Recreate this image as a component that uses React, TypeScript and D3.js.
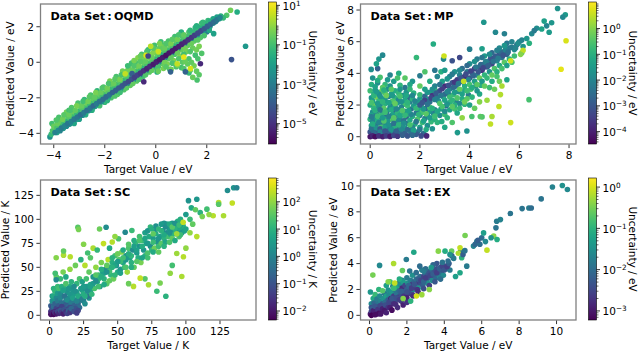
import React from 'react';
import * as d3 from 'd3';

const FONT = '"DejaVu Sans", sans-serif';

// ---------- Data: [target, predicted, log10(uncertainty)] ----------
const oqmdPoints: number[][] = [
  [-4.15,-4.2,-2.4],[-4.1,-4.05,-1.2],[-4.05,-3.85,-0.8],[-4.07,-3.45,-1.0],[-4.0,-3.6,-0.5],
  [-3.75,-3.85,-2.8],[-3.75,-3.5,-1.2],[-3.7,-3.3,-0.6],[-3.8,-3.1,-0.9],
  [-3.5,-3.6,-2.5],[-3.5,-3.3,-1.5],[-3.45,-3.05,-0.7],[-3.5,-2.8,-0.4],[-3.4,-2.7,-1.0],
  [-3.25,-3.35,-2.2],[-3.25,-3.0,-1.1],[-3.2,-2.8,-0.5],[-3.3,-2.55,-0.8],[-3.2,-3.45,-1.8],
  [-3.0,-3.1,-2.6],[-3.0,-2.75,-1.3],[-2.95,-2.5,-0.6],[-3.05,-2.3,-0.9],[-3.0,-3.2,-2.0],
  [-2.75,-2.85,-2.4],[-2.75,-2.5,-1.0],[-2.7,-2.3,-0.4],[-2.8,-2.1,-1.2],[-2.75,-2.95,-1.6],
  [-2.5,-2.6,-2.3],[-2.5,-2.25,-1.1],[-2.45,-2.05,-0.6],[-2.55,-1.85,-0.9],[-2.5,-2.7,-1.5],
  [-2.25,-2.35,-2.5],[-2.25,-2.0,-0.9],[-2.2,-1.8,-0.5],[-2.3,-1.6,-1.3],[-2.2,-2.45,-1.0],
  [-2.0,-2.1,-2.2],[-2.0,-1.75,-1.0],[-1.95,-1.55,-0.4],[-2.0,-2.25,-1.2],[-2.05,-1.4,-0.8],
  [-1.75,-1.85,-2.7],[-1.75,-1.5,-1.2],[-1.7,-1.25,-0.6],[-1.75,-2.0,-0.9],[-1.8,-1.05,-0.3],
  [-1.5,-1.6,-2.5],[-1.5,-1.25,-1.0],[-1.45,-1.0,-0.5],[-1.5,-1.8,-0.7],[-1.55,-0.8,-0.9],
  [-1.25,-1.35,-2.8],[-1.25,-1.0,-1.3],[-1.2,-0.75,-0.6],[-1.25,-1.55,-0.8],[-1.3,-0.5,-0.4],
  [-1.0,-1.05,-3.0],[-1.0,-0.75,-1.5],[-0.95,-0.5,-0.7],[-1.0,-1.3,-0.6],[-1.05,-0.3,-0.5],[-0.95,-0.05,-1.0],
  [-0.75,-0.8,-2.9],[-0.75,-0.5,-1.2],[-0.7,-0.25,-0.4],[-0.75,-1.05,-0.7],[-0.8,0.0,-0.9],[-0.7,0.25,-0.2],
  [-0.5,-0.55,-3.2],[-0.5,-0.3,-1.4],[-0.45,-0.05,-0.6],[-0.5,0.2,-0.3],[-0.55,0.45,-0.9],[-0.5,-0.8,-1.0],
  [-0.25,-0.3,-3.0],[-0.25,-0.05,-1.1],[-0.2,0.2,-0.5],[-0.25,0.45,-0.1],[-0.3,0.7,-1.2],[-0.25,-0.55,-0.7],
  [0.0,-0.05,-3.4],[0.0,0.2,-1.3],[0.05,0.45,-0.6],[0.0,0.7,-0.2],[-0.05,0.95,-1.0],[0.0,-0.3,-0.8],[0.05,-0.55,-1.5],
  [0.25,0.2,-3.1],[0.25,0.45,-1.5],[0.3,0.7,-0.7],[0.25,0.95,-0.4],[0.2,1.15,-1.1],[0.25,-0.05,-0.6],[0.3,-0.35,-0.3],
  [0.5,0.45,-3.3],[0.5,0.7,-1.2],[0.55,0.95,-0.5],[0.5,1.2,-0.9],[0.5,0.2,-0.7],[0.45,-0.1,-0.2],[0.55,-0.4,-1.1],
  [0.75,0.7,-3.0],[0.75,0.95,-1.4],[0.8,1.2,-0.6],[0.75,1.45,-1.0],[0.75,0.45,-0.8],[0.7,0.1,-0.3],[0.8,-0.25,-0.9],
  [1.0,0.95,-3.2],[1.0,1.2,-1.3],[1.05,1.45,-0.8],[1.0,1.7,-1.5],[1.0,0.7,-0.5],[0.95,0.35,-0.2],[1.05,0.0,-0.7],[1.0,-0.3,-1.0],
  [1.25,1.2,-2.9],[1.25,1.45,-1.1],[1.3,1.7,-0.9],[1.25,0.95,-0.6],[1.2,0.6,-0.4],[1.3,0.2,-0.9],[1.25,-0.1,-0.6],
  [1.5,1.45,-2.7],[1.5,1.7,-1.2],[1.55,1.95,-1.4],[1.5,1.2,-0.7],[1.45,0.8,-0.5],[1.55,0.4,-1.0],[1.5,-0.2,-0.4],
  [1.75,1.7,-2.6],[1.75,1.95,-1.5],[1.8,2.2,-1.1],[1.75,1.4,-0.8],[1.7,0.9,-0.3],[1.8,0.5,-0.8],[1.7,-0.7,-0.7],
  [1.62,-1.0,-0.9],[1.45,-0.85,-0.5],[1.3,-0.6,-1.2],
  [2.0,1.95,-2.4],[2.0,2.2,-1.6],[2.05,2.35,-1.3],[2.0,1.7,-3.0],
  [2.25,2.2,-2.3],[2.25,2.45,-1.8],[2.27,1.61,-1.9],[2.4,2.55,-2.0],[2.5,2.45,-2.0],[2.55,2.6,-1.5],[2.35,2.3,-2.8],
  [2.93,2.93,-0.4],[3.19,2.83,-1.6],[3.52,0.9,-2.2],[2.97,0.15,-4.2],[2.78,2.65,-0.8],[2.65,2.5,-1.2],
];

const oqmdFill: number[][] = [
  [-3.875,-3.95,-2.0],[-3.875,-3.7,-0.9],[-3.85,-3.45,-0.5],[-3.9,-3.25,-0.8],
  [-3.625,-3.72,-2.2],[-3.6,-3.45,-1.0],[-3.65,-3.2,-0.4],[-3.6,-2.95,-0.7],
  [-3.375,-3.48,-2.4],[-3.35,-3.2,-0.8],[-3.4,-2.95,-0.5],[-3.35,-2.7,-0.9],
  [-3.125,-3.22,-2.1],[-3.1,-2.95,-1.2],[-3.15,-2.7,-0.6],[-3.1,-2.45,-0.3],
  [-2.875,-2.98,-2.5],[-2.85,-2.7,-0.8],[-2.9,-2.45,-0.5],[-2.85,-2.2,-1.0],
  [-2.625,-2.72,-2.3],[-2.6,-2.45,-1.1],[-2.65,-2.2,-0.4],[-2.6,-1.95,-0.7],
  [-2.375,-2.48,-2.0],[-2.35,-2.2,-0.9],[-2.4,-1.95,-0.6],[-2.35,-1.7,-0.3],
  [-2.125,-2.22,-2.4],[-2.1,-1.95,-1.0],[-2.15,-1.7,-0.5],[-2.1,-1.45,-0.8],
  [-1.875,-1.98,-2.2],[-1.85,-1.7,-0.7],[-1.9,-1.45,-0.4],[-1.85,-1.2,-0.9],[-1.9,-2.15,-1.4],
  [-1.625,-1.72,-2.6],[-1.6,-1.45,-1.1],[-1.65,-1.2,-0.5],[-1.6,-0.95,-0.7],[-1.6,-1.9,-0.8],
  [-1.375,-1.48,-2.3],[-1.35,-1.2,-0.8],[-1.4,-0.95,-0.3],[-1.35,-0.7,-0.9],[-1.4,-1.7,-1.1],
  [-1.125,-1.22,-2.7],[-1.1,-0.95,-1.0],[-1.15,-0.7,-0.6],[-1.1,-0.45,-0.4],[-1.15,-1.45,-0.7],[-1.1,-0.2,-1.1],
  [-0.875,-0.98,-2.5],[-0.85,-0.7,-0.9],[-0.9,-0.45,-0.5],[-0.85,-0.2,-0.8],[-0.9,-1.2,-0.6],[-0.85,0.1,-0.3],
  [-0.625,-0.72,-2.8],[-0.6,-0.45,-1.2],[-0.65,-0.2,-0.4],[-0.6,0.05,-0.7],[-0.65,-0.95,-0.9],[-0.6,0.35,-0.5],
  [-0.375,-0.48,-2.6],[-0.35,-0.2,-1.0],[-0.4,0.05,-0.6],[-0.35,0.3,-0.3],[-0.4,-0.7,-0.8],[-0.35,0.6,-0.9],
  [-0.125,-0.22,-2.9],[-0.1,0.05,-0.8],[-0.15,0.3,-0.5],[-0.1,0.55,-0.2],[-0.15,-0.45,-0.6],[-0.1,0.8,-0.7],
  [0.125,0.02,-2.7],[0.15,0.3,-1.1],[0.1,0.55,-0.4],[0.15,0.8,-0.6],[0.1,-0.25,-0.9],[0.15,1.05,-0.3],[0.1,-0.5,-0.5],
  [0.375,0.28,-3.0],[0.4,0.55,-0.9],[0.35,0.8,-0.5],[0.4,1.05,-0.8],[0.35,0.0,-0.4],[0.4,-0.25,-0.7],
  [0.625,0.52,-2.8],[0.65,0.8,-1.0],[0.6,1.05,-0.3],[0.65,1.3,-0.7],[0.6,0.3,-0.6],[0.65,-0.05,-0.9],[0.6,-0.4,-0.4],
  [0.875,0.78,-2.6],[0.9,1.05,-1.2],[0.85,1.3,-0.4],[0.9,1.55,-0.9],[0.85,0.55,-0.5],[0.9,0.2,-0.8],[0.85,-0.15,-0.3],
  [1.125,1.02,-2.9],[1.15,1.3,-0.8],[1.1,1.55,-0.6],[1.15,0.8,-0.4],[1.1,0.45,-1.0],[1.15,0.05,-0.5],[1.1,-0.35,-0.8],
  [1.375,1.28,-2.5],[1.4,1.55,-1.0],[1.35,1.8,-1.3],[1.4,1.05,-0.5],[1.35,0.6,-0.8],[1.4,0.0,-0.6],[1.35,-0.45,-0.9],
  [1.625,1.52,-2.4],[1.65,1.8,-1.2],[1.6,2.05,-1.5],[1.65,1.25,-0.7],[1.6,0.7,-0.4],[1.65,0.2,-0.9],[1.6,-0.5,-0.6],
  [1.875,1.78,-2.3],[1.9,2.05,-1.4],[1.85,2.25,-1.2],[1.9,1.5,-0.9],
  [2.125,2.02,-2.1],[2.15,2.3,-1.5],[2.1,1.8,-1.7],
  [-0.38,0.39,0.8],[1.36,-0.36,0.7],[0.84,-0.08,0.5],[0.1,0.6,0.6],[1.1,0.3,0.9],[-1.2,-0.65,0.5],[-0.2,0.9,0.4],
  [1.16,-0.54,-3.8],[0.58,-0.54,-3.8],[-0.93,-0.64,-3.9],[-0.47,-1.1,-5.2],[1.75,-0.08,-5.2],[-0.3,0.35,-4.6],
];

const oqmdDiagonal: number[][] = [
  [-3.95,-3.95,-2.9],[-3.82,-3.83,-2.7],[-3.7,-3.7,-3.1],[-3.57,-3.58,-2.8],[-3.45,-3.45,-3.2],[-3.32,-3.33,-2.8],
  [-3.2,-3.2,-3.1],[-3.07,-3.08,-3.2],[-2.95,-2.95,-3.5],[-2.82,-2.83,-3.1],[-2.7,-2.7,-3.4],[-2.57,-2.58,-3.2],
  [-2.45,-2.45,-3.6],[-2.32,-2.33,-3.1],[-2.2,-2.2,-3.3],[-2.07,-2.08,-3.5],[-1.95,-1.95,-3.6],[-1.82,-1.83,-3.4],
  [-1.7,-1.7,-3.8],[-1.57,-1.58,-3.9],[-1.45,-1.45,-4.0],[-1.32,-1.33,-4.1],[-1.2,-1.2,-4.2],[-1.07,-1.08,-4.4],
  [-0.95,-0.95,-4.3],[-0.83,-0.84,-4.7],[-0.72,-0.72,-4.6],[-0.6,-0.61,-4.9],[-0.48,-0.48,-5.0],[-0.35,-0.36,-5.3],
  [-0.23,-0.23,-5.2],[-0.1,-0.11,-5.5],[0.02,0.02,-5.4],[0.15,0.14,-5.6],[0.27,0.27,-5.5],[0.4,0.39,-5.7],
  [0.52,0.52,-5.6],[0.65,0.64,-5.5],[0.77,0.77,-5.5],[0.9,0.89,-5.4],[1.02,1.02,-5.3],[1.15,1.14,-5.2],
  [1.27,1.27,-5.0],[1.4,1.39,-4.9],[1.52,1.52,-4.7],[1.65,1.64,-4.5],[1.77,1.77,-4.4],[1.9,1.89,-4.1],
  [2.02,2.02,-3.9],[2.15,2.14,-3.7],[2.27,2.27,-3.5],[2.4,2.39,-3.2],[2.52,2.52,-2.8],
];

const mpPoints: number[][] = [
  [0.0,0.3,-3.1],[0.15,0.4,-2.2],[0.3,0.35,-2.8],[0.5,0.3,-1.8],[0.7,0.4,-2.5],[0.9,0.3,-1.2],[1.1,0.45,-2.1],[1.3,0.35,-0.8],[1.6,0.4,-1.9],[1.9,0.3,-2.6],
  [0.05,0.7,-1.5],[0.25,0.8,-2.4],[0.45,0.75,-0.6],[0.65,0.85,-1.9],[0.85,0.7,-2.7],[1.05,0.9,-1.4],[1.25,0.8,-0.4],[1.5,0.85,-2.2],[1.8,0.8,-1.0],[2.1,0.9,-0.7],
  [0.0,1.1,-0.9],[0.2,1.2,-1.6],[0.4,1.15,-2.8],[0.6,1.25,-1.2],[0.8,1.1,-0.3],[1.0,1.3,-2.3],[1.2,1.2,-1.5],[1.45,1.25,-2.9],[1.7,1.3,-1.1],[2.0,1.35,-2.0],[2.3,1.4,-1.6],
  [0.1,1.55,-1.8],[0.3,1.6,-0.5],[0.5,1.5,-2.0],[0.7,1.65,-1.3],[0.95,1.6,-2.6],[1.15,1.7,-0.8],[1.4,1.6,-1.7],[1.65,1.75,-2.4],[1.95,1.7,-1.2],[2.25,1.8,-2.8],
  [0.0,2.0,-1.2],[0.2,2.05,-0.2],[0.4,2.0,-1.9],[0.6,2.1,-1.0],[0.85,2.0,-2.2],[1.1,2.15,-1.5],[1.35,2.05,-0.6],[1.6,2.2,-2.1],[1.9,2.15,-1.4],
  [0.05,2.45,-1.6],[0.25,2.5,-0.1],[0.5,2.4,-1.3],[0.75,2.55,-2.0],[1.0,2.45,-0.9],[1.3,2.6,-1.7],[1.55,2.5,-2.6],
  [0.0,2.9,-0.7],[0.2,2.95,-1.4],[0.45,2.85,-0.3],[0.7,3.0,-1.8],[1.0,2.9,-1.1],[1.4,3.1,-2.3],
  [0.05,3.3,-1.0],[0.3,3.4,-1.9],[0.6,3.3,-0.8],[0.95,3.5,-1.5],[0.1,3.7,-1.7],[0.4,3.75,-0.6],[0.8,3.9,-2.0],
  [0.04,4.25,-1.8],[0.3,4.3,-2.8],[0.35,4.9,-1.6],[0.5,5.15,-1.9],[0.25,4.6,-1.3],[1.15,4.0,-1.1],[1.4,3.7,-0.4],
  [1.7,3.5,-1.6],[1.86,5.0,-0.8],[2.0,3.85,-2.2],[2.54,5.85,-1.1],[2.2,4.1,-0.5],[2.6,4.2,-2.3],[2.85,4.1,-1.0],
  [3.3,4.8,-3.1],[2.95,4.9,-1.9],[2.97,5.1,0.6],[2.0,3.2,-0.3],
  [0.1,0.15,-3.5],[0.3,0.2,-3.0],[0.55,0.15,-3.3],[0.75,0.2,-2.9],[1.0,0.2,-3.0],[1.2,0.2,-2.5],[1.4,0.25,-2.8],[1.65,0.2,-2.4],[1.85,0.15,-2.9],[2.15,0.2,-2.6],
  [0.05,0.5,-2.4],[0.25,0.55,-1.7],[0.4,0.5,-2.9],[0.6,0.6,-1.4],[0.8,0.55,-2.2],[1.0,0.6,-1.0],[1.2,0.6,-2.5],[1.4,0.55,-1.6],[1.7,0.6,-2.0],[2.0,0.6,-1.3],[2.3,0.7,-1.8],
  [0.1,0.95,-2.0],[0.3,1.0,-1.1],[0.5,0.95,-2.3],[0.7,1.0,-1.6],[0.95,1.05,-0.7],[1.15,1.05,-1.9],[1.35,1.0,-2.4],[1.6,1.05,-1.2],[1.9,1.1,-0.5],[2.2,1.15,-2.1],
  [0.05,1.35,-1.3],[0.25,1.4,-2.2],[0.45,1.35,-0.8],[0.65,1.45,-2.5],[0.9,1.4,-1.4],[1.1,1.5,-0.9],[1.3,1.4,-1.9],[1.55,1.45,-1.0],[1.85,1.5,-2.2],[2.1,1.55,-0.6],[2.4,1.6,-1.4],
  [0.15,1.8,-0.9],[0.35,1.85,-1.6],[0.55,1.8,-0.4],[0.8,1.85,-1.8],[1.0,1.9,-1.2],[1.25,1.85,-2.0],[1.5,1.95,-0.7],[1.75,1.95,-1.5],[2.05,1.95,-1.0],
  [0.1,2.25,-1.4],[0.35,2.25,-0.8],[0.6,2.3,-1.6],[0.9,2.25,-0.5],[1.15,2.35,-1.9],[1.4,2.3,-1.2],[1.7,2.4,-0.9],[2.0,2.4,-1.7],
  [0.15,2.7,-1.1],[0.35,2.7,-1.8],[0.6,2.75,-0.6],[0.85,2.7,-1.4],[1.15,2.75,-0.8],[1.45,2.8,-1.6],[1.75,2.75,-1.0],
  [0.2,3.15,-1.3],[0.5,3.1,-0.4],[0.8,3.2,-1.7],[1.2,3.25,-0.9],[1.6,3.3,-1.2],[0.3,3.55,-1.1],[0.7,3.6,-1.5],[1.1,3.7,-0.6],
  [0.15,0.25,-2.6],[0.4,0.3,-2.0],[0.6,0.35,-3.0],[0.85,0.45,-1.6],[1.05,0.35,-2.8],[1.25,0.5,-1.9],[1.5,0.45,-2.6],[1.75,0.4,-1.4],
  [2.0,0.45,-2.3],[2.25,0.45,-1.1],[2.5,0.5,-1.7],
  [0.1,0.8,-1.1],[0.35,0.9,-2.0],[0.55,1.0,-0.5],[0.75,0.75,-1.7],[0.95,0.85,-2.4],[1.15,0.75,-0.9],[1.35,0.85,-1.8],[1.6,0.75,-0.6],
  [1.85,0.95,-2.3],[2.15,1.0,-1.3],[2.45,0.95,-0.8],
  [0.05,1.25,-2.2],[0.3,1.3,-0.7],[0.5,1.2,-1.5],[0.75,1.3,-2.1],[0.95,1.2,-0.4],[1.2,1.35,-1.2],[1.4,1.35,-0.8],[1.65,1.4,-2.0],
  [1.95,1.4,-0.9],[2.25,1.45,-0.4],[2.55,1.45,-1.9],
  [0.2,1.65,-1.0],[0.4,1.7,-2.3],[0.6,1.55,-0.7],[0.85,1.7,-1.1],[1.05,1.75,-2.0],[1.3,1.65,-0.5],[1.55,1.65,-1.4],[1.85,1.8,-0.8],
  [2.15,1.75,-1.6],[2.4,1.85,-0.6],
  [0.05,2.15,-0.6],[0.3,2.1,-1.5],[0.5,2.2,-0.9],[0.75,2.15,-1.3],[1.0,2.1,-0.3],[1.25,2.2,-1.7],[1.5,2.15,-0.9],[1.8,2.25,-2.0],
  [2.1,2.25,-1.2],[2.35,2.35,-2.4],
  [0.15,2.6,-0.9],[0.4,2.55,-1.7],[0.65,2.6,-0.2],[0.9,2.6,-1.5],[1.2,2.55,-0.6],[1.45,2.6,-1.2],[1.7,2.6,-1.9],[2.0,2.65,-0.8],
  [0.25,2.85,-1.5],[0.55,2.95,-1.0],[0.85,3.0,-0.4],[1.2,3.0,-1.6],[1.6,3.0,-0.8],
  [2.6,1.1,-1.0],[2.8,1.35,-1.8],[3.0,1.4,-0.7],[3.2,1.7,-1.3],[3.4,1.75,-0.6],[3.6,2.1,-1.9],[3.8,2.05,-0.9],[2.6,1.7,-2.2],
  [2.85,1.75,-1.4],[3.05,1.95,-2.5],[3.2,2.15,-1.0],[3.45,2.25,-2.0],[3.7,2.4,-1.1],[3.95,2.65,-2.2],[2.75,2.25,-1.7],[2.95,2.5,-1.0],
  [3.15,2.7,-2.3],[3.35,2.65,-0.8],[3.55,2.85,-1.8],[3.8,2.95,-1.2],[4.05,3.0,-0.5],[4.25,3.2,-1.8],[4.45,3.25,-1.1],[2.2,2.55,-2.6],
  [2.45,2.8,-1.3],[2.6,2.95,-0.9],[2.3,2.35,-1.5],
  [2.0,2.0,-2.9],[2.2,2.3,-3.4],[2.4,2.2,-2.5],[2.5,2.6,-3.6],[2.7,2.5,-2.2],[2.8,2.9,-3.2],[3.0,2.7,-2.6],[3.0,3.2,-3.8],
  [3.2,3.0,-2.0],[3.3,3.4,-3.0],[3.45,3.2,-2.4],[3.5,3.6,-3.5],[3.6,3.9,-2.1],[3.7,3.5,-2.8],[3.8,3.8,-3.7],[3.9,4.1,-2.3],
  [4.0,3.7,-3.1],[4.1,4.0,-2.6],[4.2,4.3,-3.4],[4.3,3.9,-2.0],[4.4,4.4,-2.9],[4.5,4.2,-3.6],[4.6,4.6,-2.4],[4.7,4.4,-3.0],
  [4.8,4.8,-2.2],[4.9,4.6,-3.3],[5.0,5.0,-2.7],[5.1,4.8,-2.0],[5.2,5.2,-3.1],[5.3,5.0,-2.5],[5.4,5.4,-1.9],[5.5,5.2,-2.8],
  [5.6,5.6,-2.3],[5.8,5.5,-1.8],[5.9,5.8,-2.5],[6.0,6.0,-2.1],[6.15,5.7,-1.6],
  [2.1,2.15,-3.0],[2.3,2.05,-2.4],[2.45,2.45,-3.3],[2.6,2.35,-2.1],[2.65,2.75,-2.9],[2.85,2.6,-2.3],[2.9,3.05,-3.5],[3.1,2.85,-2.0],
  [3.15,3.25,-3.1],[3.35,3.1,-2.6],[3.4,3.45,-3.6],[3.55,3.35,-2.2],[3.65,3.7,-3.0],[3.75,3.45,-2.5],[3.85,3.95,-3.2],[3.95,3.6,-2.0],
  [4.05,4.15,-3.4],[4.15,3.85,-2.7],[4.25,4.4,-2.3],[4.35,4.1,-3.0],[4.45,4.55,-2.6],[4.55,4.35,-3.3],[4.65,4.75,-2.1],[4.75,4.5,-2.8],
  [4.85,4.95,-3.0],[4.95,4.75,-2.4],[5.05,5.1,-2.9],[5.15,4.95,-2.2],[5.25,5.35,-2.6],[5.35,5.15,-3.0],[5.45,5.5,-2.0],[5.55,5.35,-2.5],
  [5.7,5.65,-2.2],[5.85,5.6,-2.0],[5.95,5.9,-1.8],[6.1,6.1,-2.0],
  [2.3,2.8,-1.6],[2.6,3.2,-2.0],[2.9,3.5,-1.4],[3.2,3.8,-2.1],[3.4,4.1,-1.7],[3.7,4.3,-2.5],[4.0,4.6,-1.8],[4.3,4.9,-2.2],
  [4.6,5.1,-1.5],[4.9,5.3,-2.6],[5.2,5.6,-1.9],[5.5,5.9,-2.3],[4.5,5.55,-1.4],[4.0,5.53,-2.1],[3.6,5.0,-3.3],
  [2.5,3.0,-1.8],[2.8,3.3,-2.4],[3.1,3.65,-1.6],[3.3,3.95,-2.2],[3.6,4.2,-1.9],[3.9,4.5,-2.6],[4.2,4.75,-1.7],[4.5,5.0,-2.3],
  [4.8,5.2,-1.8],[5.1,5.45,-2.1],[5.4,5.75,-1.6],[5.7,6.0,-2.0],[2.2,3.0,-1.4],[2.4,3.5,-1.1],[2.7,3.8,-2.0],[3.0,4.2,-1.5],
  [2.5,1.8,-1.0],[2.8,2.1,-0.5],[3.0,2.3,-1.3],[3.2,2.5,-0.7],[3.4,2.8,-1.5],[3.6,3.0,-0.3],[3.8,3.2,-1.0],[4.0,3.3,-0.6],
  [4.2,3.5,-1.4],[4.4,3.7,-0.2],[4.6,3.9,-0.9],[4.8,4.1,-1.6],[5.0,4.3,-0.5],[5.2,4.5,-1.2],[5.4,4.7,-0.4],[5.6,4.9,-1.0],
  [5.8,5.1,-0.7],[6.1,5.3,-0.3],
  [2.7,1.6,-1.2],[2.9,1.9,-0.6],[3.1,2.05,-1.6],[3.3,2.3,-0.9],[3.5,2.45,-0.5],[3.7,2.7,-1.3],[3.9,2.9,-0.7],[4.1,3.1,-1.1],
  [4.3,3.3,-0.4],[4.5,3.5,-1.5],[4.7,3.7,-0.8],[4.9,3.9,-0.3],[5.1,4.1,-1.0],[5.3,4.3,-0.6],[5.5,4.5,-1.4],[5.7,4.7,-0.5],
  [3.4,2.0,-1.0],[3.9,2.4,-0.4],[4.4,2.7,-1.2],[4.8,3.1,-0.7],[5.2,3.5,-0.2],[3.6,1.8,-0.8],[4.0,2.0,-1.4],[4.4,2.2,0.0],
  [2.4,1.2,-1.5],[2.7,0.9,-0.9],[3.0,0.6,-1.2],
  [2.6,1.3,-0.7],[3.0,1.6,-1.8],[3.3,1.9,-0.4],[3.5,1.5,-1.2],[3.8,2.2,-0.2],[4.1,2.5,-0.9],[4.3,2.9,-1.6],[4.6,3.2,-0.3],
  [4.9,3.5,-1.1],[5.1,3.8,-0.6],[3.1,1.2,-0.9],[3.7,1.2,0.1],[4.2,1.8,-0.3],[4.5,1.25,-0.5],[4.7,2.3,0.2],[5.0,3.0,-0.2],
  [5.3,3.2,0.3],[5.5,3.6,-1.3],[2.88,0.96,-1.1],[3.3,0.9,-0.5],[4.09,1.28,-0.6],[4.43,1.28,-0.4],[3.76,3.5,0.5],
  [7.54,8.1,-1.7],[7.85,7.7,-1.5],[7.75,7.55,-1.9],[7.3,7.2,-1.6],[7.1,7.0,-2.0],[6.9,6.8,-1.3],[6.7,6.85,-1.8],[7.2,6.6,-1.5],
  [6.5,6.5,-1.9],[6.3,6.2,-1.6],[6.6,6.7,-2.2],[7.0,7.3,-1.4],[6.4,5.9,-1.0],[7.88,6.06,0.7],[7.68,4.26,0.8],[6.39,2.34,-0.6],
  [5.24,2.66,0.4],[5.18,1.91,0.5],[5.65,0.89,0.6],[4.84,0.8,0.5],[4.9,1.28,0.3],[3.89,0.36,-1.7],[3.51,0.26,-1.5],
  [4.57,7.23,-1.6],[5.04,6.6,-1.9],[5.4,6.5,-2.1],[6.15,5.45,0.5],[6.05,5.2,0.0],[5.65,4.8,0.6],
  [0.0,0.0,-4.2],[0.1,0.05,-3.9],[0.2,0.0,-4.3],[0.35,0.05,-3.7],[0.5,0.0,-4.0],[0.65,0.05,-3.5],[0.8,0.02,-4.1],[0.95,0.08,-3.3],
  [1.1,0.03,-3.6],[1.3,0.1,-2.8],[1.5,0.05,-3.0],[1.7,0.1,-2.6],[2.05,0.05,-3.2],[2.27,0.05,-3.9],
];

const scPoints: number[][] = [
  [1,10,-0.8],[2,20,0.5],[3,28,1.0],[4,18,0.2],[6,30,1.2],[8,26,0.7],[9,20,0.0],[11,28,0.9],[13,24,0.3],[15,30,0.8],
  [17,26,0.4],[20,33,1.1],[22,38,1.4],[24,35,0.6],
  [2,15,0.3],[3,20,0.8],[4,25,1.1],[5,18,0.1],[6,23,0.5],[7,28,1.3],[8,22,0.2],[9,30,0.9],[10,26,0.6],[12,33,1.4],
  [14,28,0.4],[16,35,1.0],[18,30,0.2],[5,40,1.6],[8,38,1.2],[10,45,1.8],[12,40,0.8],[4.9,59.9,1.9],[10.3,62.7,2.2],
  [15.2,61,2.3],[10.3,67,1.6],[4.2,43.8,1.3],[4.9,37,0.2],
  [1,4,-1.6],[2,8,-1.2],[3,5,-1.8],[4,7,-0.9],[5,10,-0.6],[6,8,-1.4],[7,13,-0.3],[8,10,-1.0],[9,7,-1.6],[10,12,-0.5],
  [11,9,-1.2],[12,15,-0.2],[13,12,-0.9],[14,18,0.1],[15,14,-0.4],[16,20,0.3],[17,12,-0.8],[18,22,0.5],[19,16,-0.2],
  [20,24,0.6],[21,12,-0.6],[22,20,0.2],[23,16,-0.3],[24,26,0.7],[25,15,-0.1],[26,28,0.4],[28,30,0.9],[29,18,0.3],
  [2,6,-1.0],[3,9,-0.5],[4,12,-0.7],[5,7,-1.3],[6,15,-0.2],[7,10,-0.9],[8,18,0.1],[9,13,-0.4],[10,8,-1.1],[11,20,-0.3],
  [12,11,-0.8],[13,16,0.2],[14,9,-0.6],[15,22,0.4],[16,13,-0.2],[17,18,0.6],[18,10,-0.7],[19,25,0.3],[20,15,0.0],[21,20,0.8],
  [22,8,-0.5],[23,28,0.5],[24,17,-0.1],[25,22,0.9],[26,12,0.2],[27,30,0.4],[28,20,-0.3],[30,25,0.7],
  [25,30,0.5],[26,20,0.9],[27,38,1.3],[28,25,0.2],[29,45,1.6],[30,32,0.8],[31,22,1.1],[32,40,0.4],[33,28,1.4],[34,50,2.0],
  [35,35,0.6],[36,42,1.2],[37,30,0.3],[38,55,1.8],[39,45,0.7],[40,38,1.0],[41,48,0.1],[42,33,1.5],[43,58,2.3],[44,50,0.5],
  [45,42,1.1],[46,55,0.9],[47,38,1.7],[48,62,1.3],[49,52,0.2],[50,45,0.8],[51,58,1.5],[52,48,0.4],[53,66,1.9],[54,55,0.7],
  [55,50,1.2],[56,62,0.3],[57,45,2.1],[58,70,1.4],[59,60,0.6],[60,55,1.0],[61,68,0.2],[62,50,1.6],[63,75,1.1],[64,65,0.5],
  [65,60,0.9],[66,72,0.3],[67,55,1.8],[68,78,1.2],[69,68,0.4],[70,62,1.0],[71,75,0.6],[72,65,1.4],[73,82,0.8],[74,72,0.2],
  [75,68,1.1],[76,80,0.5],[77,70,1.7],[78,85,0.9],[79,76,0.3],[80,72,1.2],[81,82,0.6],[82,75,1.5],[83,88,0.4],[84,80,1.0],
  [85,76,0.7],[86,86,0.2],[87,82,1.3],[88,90,0.5],[89,84,0.9],[90,80,1.6],[91,88,0.3],[92,85,1.1],[93,92,0.6],[94,87,0.2],
  [95,82,1.4],[96,90,0.8],[97,86,0.4],[98,93,1.0],[99,88,0.6],
  [32,33,0.5],[36,38,1.1],[40,44,0.6],[44,46,1.3],[48,52,0.7],[52,56,1.2],[56,58,0.4],[60,62,1.1],[64,68,0.6],[68,72,0.9],
  [72,75,0.5],[76,76,1.2],[80,80,0.4],[84,84,0.8],[88,86,0.3],[92,90,1.0],[96,94,0.6],[34,42,1.5],[38,48,0.9],[42,52,1.6],
  [46,60,1.0],[50,64,1.7],[54,68,0.8],[58,74,1.5],[62,78,0.9],[66,82,1.3],[70,86,0.6],[74,92,1.1],[36,30,1.3],[40,32,0.8],
  [44,36,1.6],[48,42,1.1],[52,44,0.6],[56,50,1.4],[60,50,0.9],[64,56,1.5],[68,60,0.7],[72,60,1.3],[76,66,0.8],[80,66,1.6],
  [84,72,1.0],[88,76,1.4],[92,78,0.8],[96,84,1.2],[100,90,0.7],[86,95,0.6],[90,96,0.4],[94,98,0.9],[78,90,0.2],[82,88,1.0],
  [84,96,0.3],
  [72,88,0.4],[75,90,0.9],[78,93,0.3],[80,90,1.1],[82,95,0.5],[85,92,0.2],[88,95,0.8],[90,92,1.5],[92,96,0.3],[95,94,1.2],
  [76,85,1.6],[93.3,85,2.1],[70,80,0.7],[66,78,1.4],[62,72,0.6],[58,64,0.9],[54,60,1.3],[50,56,0.5],[46,50,1.0],[42,45,0.3],
  [38,40,0.9],[34,36,0.2],[30,30,0.6],
  [20.8,91.8,1.5],[21.3,89.5,1.8],[41.5,91.8,0.2],[36.7,90,1.7],[55.5,86.6,0.1],[60.4,88.4,1.2],[50.6,79.8,1.4],[46,76.4,2.3],
  [39.6,74.7,2.4],[25,74,1.9],[28,65,1.3],[32,70,2.2],[23,58,1.0],[19,52,1.7],[26,52,2.3],[30,60,1.5],[15,48,2.0],[35,68,1.1],
  [44,70,0.8],[48,82,2.0],
  [61.6,30.1,2.3],[72.6,31.8,2.2],[78.7,25,1.2],[85.3,19.9,1.0],[81.1,33.6,1.8],[97,40.4,2.2],[98.2,61,2.3],[93.3,64.4,2.1],
  [88.5,43.8,2.0],[70,38,1.5],[66.5,38.7,2.4],[58,33,1.7],[90,52,1.3],[100,70,2.0],
  [130.5,130,0.2],[135,132.9,0.3],[137.3,132.9,0.0],[124,117.5,2.3],[134,117,2.4],[124,115.8,1.5],[115.4,110.6,1.3],
  [110.5,107,1.0],[120,103.8,2.3],[127.6,103.8,2.2],[108,120.9,0.4],[101.9,119.5,0.3],[104,112,0.8],[107,110,1.6],
  [100,105,0.5],[103,100,1.2],[112,103,1.8],[96,100,0.9],[98,97,2.4],[105,95,1.6],[117,105,2.0],[108,82,2.3],[103,86,2.0],
  [3,3,-2.0],[5,4,-1.9],[7,6,-1.5],[9,9,-1.3],[11,3,-1.8],[13,6,-1.4],[15,8,-1.1],[17,5,-1.5],[19,7,-1.0],[21,5,-1.2],
  [1,1,-2.1],[2,2.5,-1.8],[3,1,-2.2],[4,3,-1.5],[5,1.5,-2.0],[6,4,-1.2],[7,2,-1.7],[8,5,-0.9],[9,3,-1.4],[10,1.5,-1.9],
  [11,6,-1.0],[12,3.5,-1.6],[13,2,-1.3],[14,5,-0.8],[15,3,-1.5],[16,7,-0.6],[18,4,-1.1],[20,2.5,-1.4],
];

const exPoints: number[][] = [
  [0.1,0.9,-1.6],[0.2,1.3,-1.2],[0.3,1.6,-0.9],[0.05,1.8,-1.4],
  [0.1,0.6,-2.4],[0.25,0.95,-2.1],[0.4,1.25,-1.8],[0.55,1.5,-1.6],[0.8,1.7,-1.9],[1.0,1.95,-1.5],[1.25,2.25,-1.7],
  [1.5,2.45,-2.0],[1.75,2.7,-1.6],[2.0,2.9,-1.8],[2.3,3.1,-1.5],[2.5,3.3,-2.0],[2.8,3.5,-1.7],
  [0.05,0.1,-3.0],[0.1,0.3,-2.6],[0.2,0.1,-3.1],[0.15,0.5,-2.2],[0.3,0.25,-2.8],[0.35,0.6,-2.0],[0.4,0.1,-2.9],[0.45,0.9,-1.9],
  [0.5,0.4,-2.5],[0.55,0.7,-2.7],[0.6,1.1,-1.7],[0.65,0.3,-3.0],[0.7,0.9,-2.3],[0.75,1.3,-1.5],[0.8,0.55,-2.6],[0.85,1.0,-2.0],
  [0.9,1.5,-1.3],[0.95,0.7,-2.8],[1.0,1.2,-2.2],[1.05,1.6,-1.6],[1.1,0.9,-2.4],[1.15,1.3,-2.9],[1.2,1.8,-1.4],[1.25,1.0,-2.1],
  [1.3,1.5,-2.6],[1.35,2.0,-1.8],[1.4,1.2,-2.3],[1.45,1.7,-1.9],[1.5,2.2,-1.2],[1.55,1.4,-2.7],[1.6,1.9,-2.1],[1.65,2.4,-1.6],
  [1.7,1.6,-2.4],[1.75,2.1,-2.8],[1.8,2.6,-1.3],[1.85,1.8,-2.0],[1.9,2.3,-2.5],[1.95,1.5,-1.7],[2.0,2.0,-2.2],[2.05,2.5,-1.5],
  [2.1,1.7,-2.6],[2.15,2.2,-2.0],[2.2,2.7,-1.8],[2.25,1.9,-2.4],[2.3,2.4,-2.7],[2.35,2.0,-1.6],[2.4,2.6,-2.1],[2.45,2.2,-2.5],
  [2.5,2.8,-1.9],[2.55,2.4,-2.3],[2.6,2.1,-1.4],[2.65,2.6,-2.6],[2.7,3.0,-2.0],[2.75,2.5,-2.4],[2.8,2.8,-1.7],[2.85,2.3,-2.2],
  [2.9,3.0,-2.5],[2.95,2.6,-1.8],[3.0,3.2,-2.1],[3.05,2.8,-2.4],[3.1,2.5,-1.5],[3.15,3.0,-2.7],[3.2,3.4,-1.9],[3.25,2.9,-2.3],
  [3.3,3.2,-2.0],[3.35,2.7,-1.6],[3.4,3.5,-2.2],[3.45,3.1,-2.6],[3.5,3.3,-1.8],[3.55,2.9,-2.1],[3.6,3.6,-2.4],[3.65,3.2,-1.9],
  [3.7,3.4,-2.5],[3.75,3.0,-1.7],[3.8,3.7,-2.2],[3.85,3.3,-2.0],[3.9,3.5,-2.3],[3.95,3.1,-1.6],[4.0,3.8,-2.1],[4.1,3.6,-1.9],
  [4.2,3.9,-2.4],[4.3,3.5,-1.8],
  [0.2,0.35,-2.9],[0.3,0.7,-2.3],[0.45,0.45,-2.7],[0.6,0.75,-2.5],[0.7,0.5,-2.9],[0.85,0.8,-2.4],[1.0,0.6,-2.7],[1.05,1.0,-2.5],
  [1.2,1.3,-2.3],[1.3,0.9,-2.8],[1.45,1.35,-2.4],[1.6,1.2,-2.6],[1.7,1.85,-2.2],[1.85,1.5,-2.7],[2.0,1.8,-2.4],[2.1,2.3,-2.1],
  [2.25,2.1,-2.6],[2.4,2.4,-2.3],[2.55,2.0,-2.7],[2.6,2.8,-2.2],[2.75,2.7,-2.5],[2.9,2.6,-2.1],[3.0,2.9,-2.6],[3.1,3.3,-2.3],
  [3.25,3.1,-2.5],[3.4,3.2,-2.2],[3.5,3.5,-2.4],[3.6,3.3,-2.6],[3.75,3.6,-2.2],[3.9,3.8,-2.5],[4.0,3.5,-2.3],[4.15,3.75,-2.6],
  [4.25,4.0,-2.2],
  [0.5,0.15,-3.1],[0.8,0.35,-3.0],[1.1,0.6,-2.9],[1.4,0.85,-2.8],[1.7,1.1,-2.6],[2.0,1.35,-2.9],[2.3,1.6,-2.5],[2.6,1.8,-2.8],
  [2.9,2.05,-2.4],[3.2,2.3,-2.6],[3.5,2.6,-2.3],[3.8,2.8,-2.0],
  [0.1,0.0,-3.2],[0.3,0.05,-3.1],[0.6,0.1,-3.0],[0.9,0.2,-2.9],[1.2,0.4,-3.1],[1.5,0.6,-2.8],[1.8,0.8,-2.9],[2.0,1.0,-2.7],[2.33,1.49,-2.8],
  [0.18,3.11,-0.5],[0.54,3.86,-1.6],[1.29,4.01,-0.2],[1.97,4.32,-1.8],[2.37,4.88,-1.2],[1.76,3.47,-0.6],[2.15,3.42,-1.9],
  [2.69,3.8,-2.0],[2.51,1.49,0.0],[0.5,2.0,-1.0],[0.9,2.3,-1.3],[1.1,2.6,-0.8],[1.3,2.1,-0.9],[1.6,2.8,-1.1],[0.7,1.9,-0.7],
  [1.8,1.3,-0.4],[2.2,1.1,-1.0],[2.8,1.6,-0.3],[3.2,2.0,-0.4],[1.35,2.5,-0.1],[1.0,2.6,-0.4],
  [4.39,4.96,-0.6],[4.04,4.96,-1.1],[3.68,4.96,-0.4],[4.93,4.45,-1.0],[5.2,3.8,-1.8],[4.84,3.29,-1.2],[4.88,4.96,-1.9],
  [4.84,5.22,-0.1],[4.75,4.8,-0.2],[5.11,6.17,-0.5],[5.74,5.73,-1.8],[6.0,5.99,-2.0],[5.56,5.35,-1.7],[5.65,5.5,-2.1],
  [6.28,5.04,-0.1],[6.64,6.12,-0.4],[6.82,5.86,-1.1],[6.1,6.37,-1.3],[6.76,6.76,-1.9],[6.8,7.27,-1.8],[7.0,7.4,-1.7],
  [7.53,7.87,-1.9],[8.16,8.25,-1.9],[8.52,8.3,-1.8],[8.65,8.3,-2.0],[9.18,9.0,-1.9],[9.78,9.92,-1.7],[10.31,10.03,-1.5],
  [10.58,9.72,-1.6],[4.4,4.6,-2.2],[4.5,4.4,-1.8],[4.2,4.2,-2.0],[3.9,4.1,-1.9],[3.6,4.0,-2.3],[3.4,3.9,-2.1],[5.0,4.7,-2.2],
  [5.1,5.0,-1.9],[4.6,3.0,-1.3],[4.3,4.7,-1.5],[3.0,3.6,-2.0],[3.3,3.7,-1.4],[2.9,3.4,-1.8],[5.9,5.5,-2.0],[5.8,5.8,-2.2],
  [6.2,5.7,-1.6],[6.5,6.0,-1.5],
];

// ---------- Axis ticks ----------
const oqmdTicks = [-4, -2, 0, 2];
const mpTicks = [0, 2, 4, 6, 8];
const scTicks = [0, 25, 50, 75, 100, 125];
const exTicks = [0, 2, 4, 6, 8, 10];
const oqmdCbarExps = [1, -1, -3, -5];
const mpCbarExps = [0, -1, -2, -3, -4];
const scCbarExps = [2, 1, 0, -1, -2];
const exCbarExps = [0, -1, -2, -3];

const panels = [
  {
    id: 'oqmd', name: 'OQMD', unit: 'eV', points: [...oqmdPoints, ...oqmdFill, ...oqmdDiagonal],
    xDom: [-4.52, 3.93], yDom: [-4.6, 3.28], xTicks: oqmdTicks, yTicks: oqmdTicks,
    cDom: [-6.03, 1.17], cExps: oqmdCbarExps,
    ox: 0, oy: 0, ylabX: 10,
  },
  {
    id: 'mp', name: 'MP', unit: 'eV', points: mpPoints,
    xDom: [-0.39, 8.28], yDom: [-0.46, 8.38], xTicks: mpTicks, yTicks: mpTicks,
    cDom: [-4.48, 1.03], cExps: mpCbarExps,
    ox: 320, oy: 0, ylabX: 340,
  },
  {
    id: 'sc', name: 'SC', unit: 'K', points: scPoints,
    xDom: [-6.6, 151.4], yDom: [-4.9, 141], xTicks: scTicks, yTicks: scTicks,
    cDom: [-2.33, 2.87], cExps: scCbarExps,
    ox: 0, oy: 176, ylabX: 5,
  },
  {
    id: 'ex', name: 'EX', unit: 'eV', points: exPoints,
    xDom: [-0.48, 11.04], yDom: [-0.36, 10.46], xTicks: exTicks, yTicks: exTicks,
    cDom: [-3.22, 0.22], cExps: exCbarExps,
    ox: 320, oy: 176, ylabX: 333,
  },
];

const fmt = (v: number) => (v < 0 ? '\u2212' + Math.abs(v) : String(v));
const fmtExp = (e: number) => (e < 0 ? '\u2212' + Math.abs(e) : String(e));

function Panel({ p }: { p: any }) {
  const px0 = p.ox + 40.5, px1 = p.ox + 256, py0 = p.oy + 4, py1 = p.oy + 144;
  const cbx0 = p.ox + 268.5, cbx1 = p.ox + 276.5, cby0 = p.oy + 2, cby1 = p.oy + 144;
  const x = d3.scaleLinear().domain(p.xDom).range([px0, px1]);
  const y = d3.scaleLinear().domain(p.yDom).range([py1, py0]);
  const color = d3.scaleSequential(d3.interpolateViridis).domain(p.cDom);
  const cy = d3.scaleLinear().domain(p.cDom).range([cby1, cby0]);
  const stops = d3.range(0, 1.0001, 0.05);
  const minor: number[] = [];
  for (let k = Math.floor(p.cDom[0]); k <= Math.ceil(p.cDom[1]); k++) {
    for (let m = 2; m <= 9; m++) {
      const v = k + Math.log10(m);
      if (v > p.cDom[0] && v < p.cDom[1]) minor.push(v);
    }
  }
  const tickLen = 3.5;
  return (
    <g>
      <defs>
        <clipPath id={`clip-${p.id}`}>
          <rect x={px0} y={py0} width={px1 - px0} height={py1 - py0} />
        </clipPath>
        <linearGradient id={`grad-${p.id}`} x1="0" y1="1" x2="0" y2="0">
          {stops.map((t) => (
            <stop key={t} offset={t} stopColor={d3.interpolateViridis(t)} />
          ))}
        </linearGradient>
      </defs>
      <g clipPath={`url(#clip-${p.id})`}>
        {p.points.map((d: number[], i: number) => (
          <circle key={i} cx={x(d[0])} cy={y(d[1])} r={2.8} fill={color(d[2])} />
        ))}
      </g>
      <rect x={px0} y={py0} width={px1 - px0} height={py1 - py0} fill="none" stroke="#808080" strokeWidth={1.3} />
      {p.xTicks.map((t: number) => (
        <g key={'x' + t}>
          <line x1={x(t)} x2={x(t)} y1={py1 + 0.6} y2={py1 + tickLen + 0.6} stroke="#000" strokeWidth={0.8} />
          <text x={x(t)} y={py1 + 14.5} fontSize={10.5} textAnchor="middle" fontFamily={FONT} fill="#000">{fmt(t)}</text>
        </g>
      ))}
      {p.yTicks.map((t: number) => (
        <g key={'y' + t}>
          <line x1={px0 - 0.6} x2={px0 - tickLen - 0.6} y1={y(t)} y2={y(t)} stroke="#000" strokeWidth={0.8} />
          <text x={px0 - 6.5} y={y(t) + 3.8} fontSize={10.5} textAnchor="end" fontFamily={FONT} fill="#000">{fmt(t)}</text>
        </g>
      ))}
      <text x={px0 + 10} y={p.oy + 20} fontSize={11.2} fontWeight="bold" fontFamily={FONT} fill="#000">
        {`Data Set\u2009:\u2009${p.name}`}
      </text>
      <text x={(px0 + px1) / 2} y={p.oy + 173} fontSize={10.5} textAnchor="middle" fontFamily={FONT} fill="#000">
        {`Target Value / ${p.unit}`}
      </text>
      <text transform={`translate(${p.ylabX + 4},${(py0 + py1) / 2}) rotate(-90)`} fontSize={10.5} textAnchor="middle" fontFamily={FONT} fill="#000">
        {`Predicted Value / ${p.unit}`}
      </text>
      <rect x={cbx0} y={cby0} width={cbx1 - cbx0} height={cby1 - cby0} fill={`url(#grad-${p.id})`} stroke="#000" strokeWidth={0.6} />
      {minor.map((v) => (
        <line key={'m' + v} x1={cbx1} x2={cbx1 + 2} y1={cy(v)} y2={cy(v)} stroke="#000" strokeWidth={0.6} />
      ))}
      {p.cExps.map((e: number) => (
        <g key={'c' + e}>
          <line x1={cbx1} x2={cbx1 + tickLen} y1={cy(e)} y2={cy(e)} stroke="#000" strokeWidth={0.8} />
          <text x={cbx1 + 6} y={cy(e) + 4.5} fontSize={10.5} fontFamily={FONT} fill="#000">
            <tspan>10</tspan>
            <tspan dy={-4} fontSize={7.3}>{fmtExp(e)}</tspan>
          </text>
        </g>
      ))}
      <text transform={`translate(${p.ox + 309},${(cby0 + cby1) / 2}) rotate(90)`} fontSize={10.5} textAnchor="middle" fontFamily={FONT} fill="#000">
        {`Uncertainty / ${p.unit}`}
      </text>
    </g>
  );
}

export default function App() {
  return (
    <svg width={640} height={352} viewBox="0 0 640 352" style={{ display: 'block', position: 'absolute', left: 0, top: 0, background: '#fff' }}>
      <rect x={0} y={0} width={640} height={352} fill="#fff" />
      {panels.map((p) => (
        <Panel key={p.id} p={p} />
      ))}
    </svg>
  );
}
